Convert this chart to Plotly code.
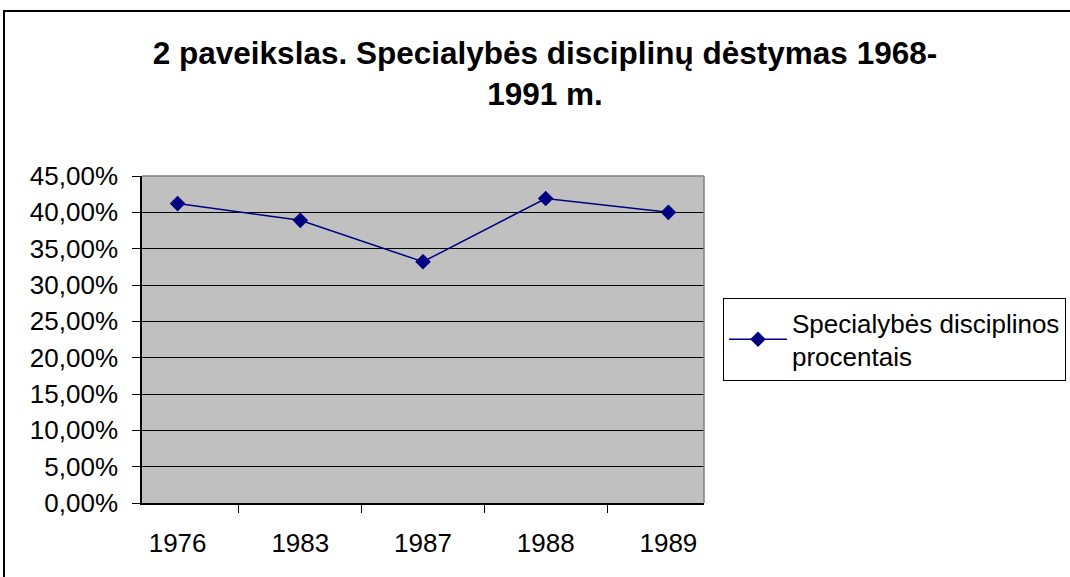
import plotly.graph_objects as go

years = ["1976", "1983", "1987", "1988", "1989"]
shares = [0.412, 0.389, 0.332, 0.419, 0.400]
series_name = "Specialybės disciplinos<br>procentais"
title_text = "2 paveikslas. Specialybės disciplinų dėstymas 1968-<br>1991 m."

W, H = 1070, 577
L, R, T, B = 142, 366, 176, 74
pw, ph = W - L - R, H - T - B

def px_x(p):
    return (p - L) / pw

def px_y(p):
    return (H - B - p) / ph

font_family = "Arial, 'Liberation Sans', sans-serif"

fig = go.Figure()
fig.add_trace(go.Scatter(
    x=years, y=shares, mode="lines+markers", name=series_name,
    line=dict(color="#000080", width=1.5),
    marker=dict(symbol="diamond", size=12, color="#000080"),
))

fig.update_layout(
    width=W, height=H,
    margin=dict(l=L, r=R, t=T, b=B, autoexpand=False),
    paper_bgcolor="white",
    plot_bgcolor="#C0C0C0",
    separators=", ",
    font=dict(family=font_family, size=26, color="black"),
    title=dict(
        text=title_text,
        font=dict(family=font_family, size=31.5, color="black", weight="bold"),
        x=545 / W, xanchor="center", xref="container",
        y=1 - 64 / H, yanchor="middle", yref="container",
    ),
    showlegend=True,
    legend=dict(
        x=px_x(723), xanchor="left", y=0.5, yanchor="middle",
        bordercolor="black", borderwidth=1, bgcolor="white",
        itemwidth=58,
        font=dict(family=font_family, size=26, color="black"),
    ),
    xaxis=dict(
        type="category", tickson="boundaries", ticks="outside", ticklen=8,
        tickcolor="black", showline=True, linecolor="black", linewidth=1.5,
        showgrid=False, ticklabelstandoff=16, zeroline=False,
    ),
    yaxis=dict(
        range=[0, 0.45], dtick=0.05, tickformat=".2%", ticks="outside",
        ticklen=8, tickcolor="black", showline=True, linecolor="black",
        linewidth=1.5, showgrid=True, gridcolor="black", gridwidth=1,
        zeroline=False, ticklabelstandoff=9,
    ),
    shapes=[
        dict(type="line", xref="paper", yref="paper", x0=0, x1=1, y0=1, y1=1,
             line=dict(color="#808080", width=1.5), layer="above"),
        dict(type="line", xref="paper", yref="paper", x0=1, x1=1, y0=0, y1=1,
             line=dict(color="#808080", width=1.5), layer="above"),
        dict(type="rect", xref="paper", yref="paper",
             x0=px_x(4), x1=px_x(W + 20), y0=px_y(H + 20), y1=px_y(11),
             line=dict(color="black", width=2), layer="above"),
    ],
)

fig.write_html("out.html", config={"displayModeBar": False},
               post_script="document.body.style.margin='0';")
